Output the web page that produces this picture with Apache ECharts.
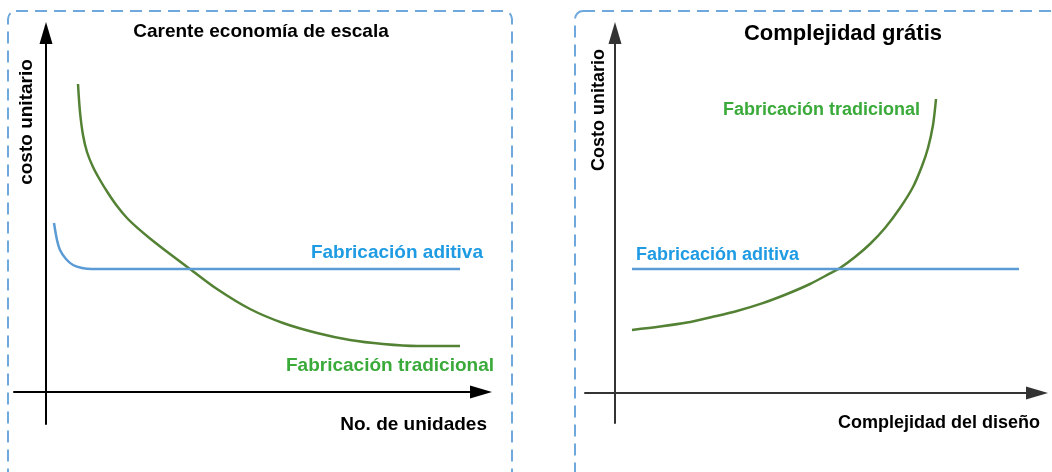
<!DOCTYPE html>
<html>
<head>
<meta charset="utf-8">
<script src="https://cdn.jsdelivr.net/npm/echarts@6/dist/echarts.min.js"></script>
<style>
  html, body { margin: 0; padding: 0; background: #fff; }
  #chart { width: 1052px; height: 472px; }
</style>
</head>
<body>
<div id="chart"></div>
<script>
// left panel: cost per unit vs number of units
const unitsTrad = [8, 8.5, 9.25, 10.25, 11.75, 13.5, 15.5, 17.75, 20.25, 23, 26, 31, 36,
  42.75, 51, 59.25, 67.75, 76, 84.25, 92.75, 103.5];
const costTrad = [77, 70, 64.25, 60, 56.25, 53, 49.75, 46.5, 43.5, 40.9, 38.4, 34.5, 30.75,
  25.75, 20.75, 17.25, 14.75, 13, 12, 11.5, 11.5];
const unitsAdd = [2, 2.75, 3.5, 5, 6.75, 9, 11.5, 103.5];
const costAdd = [42.25, 38, 35.5, 33.25, 31.75, 31, 30.75, 30.75];

// right panel: cost per unit vs design complexity
const complexTrad = [4.25, 11.25, 18, 24.25, 30.5, 36.75, 43, 48.75, 53.75, 56.25, 60, 63.75,
  67.5, 71.25, 74.5, 76.75, 78.25, 79.5, 80.25];
const costTradC = [15.75, 16.6, 17.6, 19, 20.5, 22.4, 24.75, 27.25, 29.9, 31.25, 34, 37.25,
  41.25, 46.25, 51.5, 56.75, 61.25, 67, 73.5];
const complexAdd = [4.25, 101];
const costAddC = [31, 31];

const GREEN_LINE = "#548235";
const BLUE_LINE = "#5b9bd5";
const GREEN_TEXT = "#3aaa3a";
const BLUE_TEXT = "#1e9be3";
const FONT = "Liberation Sans, Arial, sans-serif";

const zip = (xs, ys) => xs.map((x, i) => [x, ys[i]]);

function hiddenAxis(extra, color) {
  return Object.assign(
    {
      type: "value",
      axisLine: {
        onZero: true,
        symbol: ["none", "triangle"],
        symbolSize: [13, 22],
        lineStyle: { color, width: 2 },
      },
      axisTick: { show: false },
      axisLabel: { show: false },
      splitLine: { show: false },
    },
    extra,
  );
}

function text(x, y, str, size, color, opts = {}) {
  return {
    type: "text",
    x,
    y,
    rotation: opts.rotation || 0,
    style: {
      text: str,
      fill: color,
      font: `bold ${size}px ${FONT}`,
      textAlign: opts.align || "center",
      textVerticalAlign: "middle",
    },
  };
}

function curve(xi, data, color, smooth) {
  return {
    type: "line",
    xAxisIndex: xi,
    yAxisIndex: xi,
    data,
    smooth,
    showSymbol: false,
    lineStyle: { color, width: 2.5 },
  };
}

const chart = echarts.init(document.getElementById("chart"));

chart.setOption({
  animation: false,
  grid: [
    { left: 14, top: 33, width: 467, height: 391 },
    { left: 585, top: 33, width: 452, height: 390 },
  ],
  xAxis: [
    hiddenAxis({ gridIndex: 0, min: -8, max: 108.75 }, "#000"),
    hiddenAxis({ gridIndex: 1, min: -7.5, max: 105.5 }, "#333"),
  ],
  yAxis: [
    hiddenAxis({ gridIndex: 0, min: -8, max: 89.75 }, "#000"),
    hiddenAxis({ gridIndex: 1, min: -7.5, max: 90 }, "#333"),
  ],
  series: [
    curve(0, zip(unitsTrad, costTrad), GREEN_LINE, 0.3),
    curve(0, zip(unitsAdd, costAdd), BLUE_LINE, 0.35),
    curve(1, zip(complexTrad, costTradC), GREEN_LINE, 0.3),
    curve(1, zip(complexAdd, costAddC), BLUE_LINE, false),
  ],
  graphic: [
    {
      type: "rect",
      shape: { x: 8, y: 11, width: 504, height: 500, r: 8 },
      style: { fill: "none", stroke: "#6fa8dc", lineWidth: 2, lineDash: [12, 7] },
      z: -1,
    },
    {
      type: "rect",
      shape: { x: 575, y: 11, width: 520, height: 500, r: 8 },
      style: { fill: "none", stroke: "#6fa8dc", lineWidth: 2, lineDash: [12, 7] },
      z: -1,
    },
    text(261, 32, "Carente economía de escala", 19, "#000"),
    text(843, 34, "Complejidad grátis", 22, "#000"),
    text(27, 122, "costo unitario", 19, "#000", { rotation: Math.PI / 2 }),
    text(599, 110, "Costo unitario", 18, "#000", { rotation: Math.PI / 2 }),
    text(487, 425, "No. de unidades", 19, "#000", { align: "right" }),
    text(1040, 423, "Complejidad del diseño", 18, "#000", { align: "right" }),
    text(483, 253, "Fabricación aditiva", 19, BLUE_TEXT, { align: "right" }),
    text(494, 366, "Fabricación tradicional", 19, GREEN_TEXT, { align: "right" }),
    text(920, 110, "Fabricación tradicional", 18, GREEN_TEXT, { align: "right" }),
    text(636, 255, "Fabricación aditiva", 18, BLUE_TEXT, { align: "left" }),
  ],
});
</script>
</body>
</html>
